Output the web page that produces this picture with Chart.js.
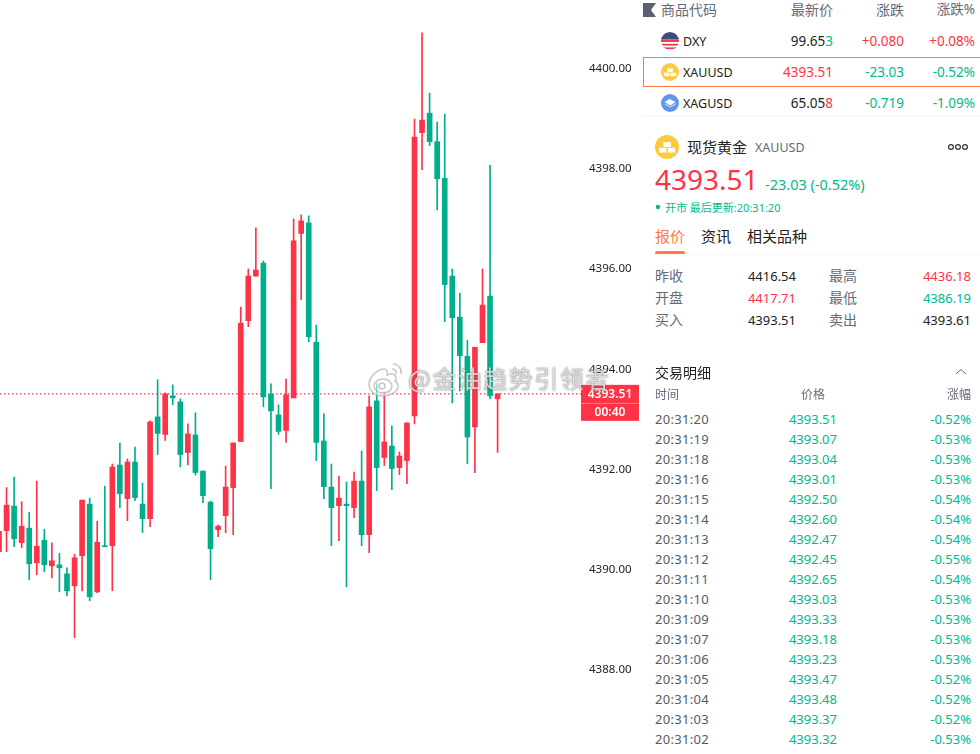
<!DOCTYPE html>
<html>
<head>
<meta charset="utf-8">
<title>XAUUSD</title>
<script src="https://cdn.jsdelivr.net/npm/chart.js@4/dist/chart.umd.min.js"></script>
<style>
html, body { margin: 0; padding: 0; background: #fff; }
#page { position: relative; width: 980px; height: 754px; overflow: hidden; font-family: "Noto Sans", "Noto Sans CJK SC", sans-serif; }
#priceChart { position: absolute; left: 0; top: 0; }
.t { position: absolute; line-height: 1; white-space: nowrap; transform: translateY(-50%); }
.g { position: absolute; }
.g svg { display: block; }
#mark { position: absolute; left: 408px; top: 378px; transform: translateY(-50%); font: 24px "Noto Sans CJK SC"; letter-spacing: 1.5px; line-height: 1; white-space: nowrap; color: rgba(255,255,255,.72); text-shadow: 0 0 2px rgba(90,90,90,.75), 0 0 1px rgba(90,90,90,.6); }
</style>
</head>
<body>
<div id="page">
  <canvas id="priceChart" width="640" height="754"></canvas>
  <svg class="g" style="left:365px;top:360px" width="42" height="38" viewBox="0 0 42 38" fill="none" stroke="#bbb" stroke-width="1.6" opacity=".8">
    <path d="M4 24c0-7 9-15 15-15 3 0 4 3 3 6 5-2 9-1 9 3 0 1 0 2-1 3 2 1 3 3 3 5 0 6-8 10-15 10C10 36 4 31 4 24z" fill="rgba(255,255,255,.7)"/>
    <ellipse cx="18" cy="26" rx="9" ry="7"/><circle cx="17" cy="26" r="3"/>
    <path d="M28 4c5 0 9 4 8 10M27 9c3 0 5 2 4 5"/>
  </svg>
  <div id="mark">@金油趋势引领者</div>
</div>
<script>
// candles, oldest first, red = up, green = down
const openPrices = [4390.36,4390.78,4391.27,4390.54,4390.83,4390.14,4390.59,4390.08,4390.10,4389.92,4389.68,4390.28,4391.31,4389.56,4390.48,4390.48,4392.09,4391.42,4392.15,4391.31,4391.02,4393.05,4392.70,4393.47,4393.35,4392.34,4392.69,4391.97,4391.35,4390.80,4391.08,4391.64,4392.56,4394.97,4395.86,4396.12,4393.50,4393.09,4392.78,4393.43,4396.71,4396.92,4394.54,4392.57,4391.65,4391.28,4391.31,4391.24,4391.77,4390.70,4393.37,4392.24,4392.47,4392.04,4392.18,4393.07,4398.72,4399.11,4398.54,4397.81,4395.86,4395.04,4394.26,4392.85,4394.53,4395.46,4393.41];
const highPrices = [4390.77,4391.64,4391.85,4391.36,4391.15,4391.77,4390.81,4390.54,4390.33,4390.04,4390.31,4391.39,4391.43,4390.97,4391.67,4392.11,4392.53,4392.21,4392.45,4391.73,4392.97,4393.79,4393.53,4393.69,4393.41,4392.91,4393.13,4391.97,4391.37,4390.89,4392.07,4392.53,4395.24,4396.00,4396.82,4396.16,4393.71,4393.29,4393.81,4397.00,4397.08,4397.06,4394.88,4393.11,4392.11,4391.87,4391.75,4391.95,4392.37,4393.47,4393.72,4393.55,4392.87,4392.35,4392.93,4398.99,4400.71,4399.51,4398.93,4399.09,4396.00,4395.52,4394.58,4394.44,4396.00,4398.07,4393.51];
const lowPrices = [4390.36,4390.36,4390.46,4390.44,4389.80,4389.90,4389.96,4389.84,4389.56,4389.48,4388.65,4389.58,4389.38,4389.54,4390.46,4389.58,4391.24,4390.98,4391.38,4390.74,4390.86,4392.30,4392.58,4393.29,4392.05,4392.09,4391.89,4391.34,4389.80,4390.66,4390.74,4390.70,4392.56,4394.85,4395.85,4393.25,4391.62,4392.70,4392.54,4393.43,4395.39,4394.55,4392.18,4391.42,4390.48,4390.58,4389.66,4391.04,4390.48,4390.34,4391.58,4392.08,4391.60,4391.90,4391.72,4392.91,4397.98,4398.46,4397.18,4394.95,4393.33,4393.57,4392.12,4391.94,4394.53,4393.41,4392.34];
const closePrices = [4390.77,4391.29,4390.62,4390.87,4390.12,4390.47,4390.10,4390.18,4390.04,4389.58,4390.24,4391.39,4389.46,4390.55,4390.46,4392.05,4391.52,4392.15,4391.44,4391.02,4392.95,4392.72,4393.51,4393.43,4392.30,4392.71,4391.94,4391.48,4390.42,4390.87,4391.65,4392.53,4394.92,4395.86,4395.98,4393.45,4393.17,4392.76,4393.49,4396.56,4396.96,4394.65,4392.54,4391.66,4391.24,4391.43,4391.28,4391.77,4390.70,4393.25,4392.04,4392.55,4392.02,4392.27,4392.93,4398.63,4398.97,4398.54,4397.80,4395.69,4395.03,4394.27,4392.65,4394.44,4395.28,4393.47,4393.51];
const priceTicks = [4388, 4390, 4392, 4394, 4396, 4398, 4400];
const lastPrice = 4393.51;
const countdown = "00:40";

const watchRows = ["DXY", "XAUUSD", "XAGUSD"];
const watchLast = ["99.653", "4393.51", "65.058"];
const watchChange = ["+0.080", "-23.03", "-0.719"];
const watchPct = ["+0.08%", "-0.52%", "-1.09%"];

const tradeTimes = ["20:31:20","20:31:19","20:31:18","20:31:16","20:31:15","20:31:14","20:31:13","20:31:12","20:31:11","20:31:10","20:31:09","20:31:07","20:31:06","20:31:05","20:31:04","20:31:03","20:31:02"];
const tradePrices = ["4393.51","4393.07","4393.04","4393.01","4392.50","4392.60","4392.47","4392.45","4392.65","4393.03","4393.33","4393.18","4393.23","4393.47","4393.48","4393.37","4393.32"];
const tradePcts = ["-0.52%","-0.53%","-0.53%","-0.53%","-0.54%","-0.54%","-0.54%","-0.55%","-0.54%","-0.53%","-0.53%","-0.53%","-0.53%","-0.52%","-0.52%","-0.52%","-0.53%"];

const RED = "#ff3347";
const GREEN = "#00ae8b";
const TEXT_GREEN = "#00b98d";
const ORANGE = "#ff7a45";
const GREY = "#666a78";
const FONT = '"Noto Sans", "Noto Sans CJK SC", sans-serif';

const candleColors = closePrices.map((c, i) => c >= openPrices[i] ? RED : GREEN);
const xMin = 0.132, xMax = 77.04;

const priceTag = {
  id: "priceTag",
  afterDraw(chart) {
    const c = chart.ctx;
    const y = chart.scales.y.getPixelForValue(lastPrice);
    c.save();
    c.fillStyle = RED;
    c.fillRect(581, y - 9, 58, 36);
    c.fillStyle = "rgba(255,255,255,.35)";
    c.fillRect(581, y + 9, 58, 1);
    c.fillStyle = "#fff";
    c.font = "600 12px " + FONT;
    c.textAlign = "center";
    c.textBaseline = "middle";
    c.fillText(lastPrice.toFixed(2), 610, y + 1);
    c.fillText(countdown, 610, y + 19);
    c.restore();
  }
};

new Chart("priceChart", {
  type: "bar",
  plugins: [priceTag],
  data: {
    datasets: [
      {
        label: "body",
        order: 1,
        data: openPrices.map((o, i) => ({ x: i, y: [o, closePrices[i]] })),
        backgroundColor: candleColors,
        barThickness: 5,
        grouped: false
      },
      {
        label: "wick",
        order: 2,
        data: lowPrices.map((l, i) => ({ x: i, y: [l, highPrices[i]] })),
        backgroundColor: candleColors,
        barThickness: 1,
        grouped: false
      },
      {
        type: "line",
        label: "last",
        order: 3,
        data: [{ x: xMin, y: lastPrice }, { x: xMax, y: lastPrice }],
        borderColor: RED,
        borderWidth: 1.2,
        borderDash: [1.5, 2.5],
        pointRadius: 0
      }
    ]
  },
  options: {
    responsive: false,
    animation: false,
    layout: { padding: 0 },
    plugins: { legend: { display: false }, tooltip: { enabled: false } },
    scales: {
      x: { type: "linear", display: false, offset: false, min: xMin, max: xMax },
      y: {
        position: "right",
        min: 4386.326,
        max: 4401.366,
        border: { display: false },
        grid: { display: false, drawTicks: false },
        afterFit(scale) {
          scale.width = 59;
          scale.paddingTop = 0;
          scale.paddingBottom = 0;
        },
        afterBuildTicks(scale) { scale.ticks = priceTicks.map(v => ({ value: v })); },
        ticks: {
          padding: 8,
          color: "#222",
          font: { family: FONT, size: 11.5 },
          callback: v => v.toFixed(2)
        }
      }
    }
  }
});

// right hand panel
const page = document.getElementById("page");

function put(text, x, y, size, color, right) {
  const d = document.createElement("div");
  d.className = "t";
  d.textContent = text;
  d.style.fontSize = size + "px";
  d.style.color = color;
  d.style.top = y + "px";
  if (right) d.style.right = (980 - x) + "px";
  else d.style.left = x + "px";
  page.appendChild(d);
  return d;
}

function svg(x, y, w, h, inner) {
  const d = document.createElement("div");
  d.className = "g";
  d.style.left = x + "px";
  d.style.top = y + "px";
  d.innerHTML = '<svg width="' + w + '" height="' + h + '" viewBox="0 0 ' + w + " " + h + '">' + inner + "</svg>";
  page.appendChild(d);
}

function box(x, y, w, h, style) {
  const d = document.createElement("div");
  d.className = "g";
  d.style.cssText += "left:" + x + "px;top:" + y + "px;width:" + w + "px;height:" + h + "px;" + style;
  page.appendChild(d);
}

function goldIcon(cx, cy, r) {
  const s = r / 9;
  const bar = (x, y) => '<rect x="' + (r + x * s) + '" y="' + (r + y * s) + '" width="' + 5.5 * s + '" height="' + 3.6 * s + '" fill="#fff"/>';
  svg(cx - r, cy - r, r * 2, r * 2, '<circle cx="' + r + '" cy="' + r + '" r="' + r + '" fill="#fbcb3d"/>' + bar(-2.7, -3.6) + bar(-6, 0.6) + bar(0.6, 0.6));
}

function flagIcon(cx, cy, r) {
  let stripes = "";
  for (let i = 0; i < 5; i++) stripes += '<rect x="0" y="' + (1 + i * 3.6) + '" width="18" height="1.8" fill="#e8404a"/>';
  svg(cx - r, cy - r, r * 2, r * 2, '<defs><clipPath id="fc"><circle cx="9" cy="9" r="9"/></clipPath></defs><g clip-path="url(#fc)"><rect width="18" height="18" fill="#fff"/>' + stripes + '<rect width="18" height="7.5" y="0" fill="#3c4a86"/><rect y="7.5" width="18" height="1.8" fill="#e8404a"/></g>');
}

function silverIcon(cx, cy, r) {
  svg(cx - r, cy - r, r * 2, r * 2, '<circle cx="9" cy="9" r="9" fill="#6394f0"/><path d="M3.5 8l5-3 6 3-5 3.5z" fill="#fff"/><path d="M4 10l5.5 3 5-3" fill="none" stroke="#dfe9ff" stroke-width="1"/>');
}

// watch list
svg(643, 3, 14, 14, '<path d="M0 0h13l-5 7 5 7H0z" fill="#5c6070"/>');
put("商品代码", 661, 10, 14, GREY);
put("最新价", 833, 10, 14, GREY, true);
put("涨跌", 904, 10, 14, GREY, true);
put("涨跌%", 975, 10, 13.5, GREY, true);

box(643, 57, 345, 30, "box-sizing:border-box;border:1.5px solid " + ORANGE + ";");
flagIcon(670, 41, 9);
goldIcon(670, 72, 9);
silverIcon(670, 103, 9);
box(643, 115, 337, 1, "background:#f4f5f7;");

const rowY = [42, 73, 104];
const lastDigitColors = ["#00b98d", "", RED];
watchRows.forEach((name, i) => {
  put(name, 683, rowY[i], 12.5, "#222");
  const last = put("", 833, rowY[i], 13.5, "#222", true);
  if (lastDigitColors[i]) {
    const txt = watchLast[i];
    last.innerHTML = txt.slice(0, -1) + '<span style="color:' + lastDigitColors[i] + '">' + txt.slice(-1) + "</span>";
  } else {
    last.textContent = watchLast[i];
    last.style.color = RED;
  }
  const col = watchChange[i][0] === "+" ? RED : TEXT_GREEN;
  put(watchChange[i], 904, rowY[i], 13.5, col, true);
  put(watchPct[i], 975, rowY[i], 13.5, col, true);
});

// quote header
goldIcon(667, 147, 12);
put("现货黄金", 687, 147, 15, "#222");
put("XAUUSD", 755, 148, 12.5, GREY);
svg(947, 143, 22, 8, '<g fill="none" stroke="#333" stroke-width="1.2"><circle cx="4" cy="4" r="2.4"/><circle cx="11" cy="4" r="2.4"/><circle cx="18" cy="4" r="2.4"/></g>');
put("4393.51", 655, 179, 28, RED);
put("-23.03 (-0.52%)", 765, 184, 14.5, TEXT_GREEN);
svg(655, 204, 6, 6, '<circle cx="3" cy="3" r="2.2" fill="' + TEXT_GREEN + '"/>');
put("开市 最后更新:20:31:20", 665, 207, 11, TEXT_GREEN);

// tabs
put("报价", 655, 236, 15, ORANGE);
put("资讯", 701, 236, 15, "#222");
put("相关品种", 747, 236, 15, "#222");
box(655, 251, 30, 4, "background:" + ORANGE + ";border-radius:2px;");
box(655, 254, 325, 1, "background:#f6f7f8;");

// stats
const statY = [276, 298, 320];
const statLeftLabels = ["昨收", "开盘", "买入"];
const statLeftValues = ["4416.54", "4417.71", "4393.51"];
const statRightLabels = ["最高", "最低", "卖出"];
const statRightValues = ["4436.18", "4386.19", "4393.61"];
const statLeftColors = ["#222", RED, "#222"];
const statRightColors = [RED, TEXT_GREEN, "#222"];
statY.forEach((y, i) => {
  put(statLeftLabels[i], 655, y, 14, GREY);
  put(statLeftValues[i], 796, y, 13, statLeftColors[i], true);
  put(statRightLabels[i], 829, y, 14, GREY);
  put(statRightValues[i], 971, y, 13, statRightColors[i], true);
});

// trades
put("交易明细", 655, 373, 14, "#222");
svg(955, 368, 12, 8, '<path d="M1 6l5-4.5L11 6" fill="none" stroke="#666" stroke-width="1"/>');
put("时间", 655, 395, 12, GREY);
put("价格", 801, 395, 12, GREY);
put("涨幅", 971, 395, 12, GREY, true);
tradeTimes.forEach((time, i) => {
  const y = 419 + i * 20;
  put(time, 655, y, 13, "#555a68").style.letterSpacing = ".3px";
  put(tradePrices[i], 837, y, 13, TEXT_GREEN, true);
  put(tradePcts[i], 971, y, 13, TEXT_GREEN, true);
});
</script>
</body>
</html>
